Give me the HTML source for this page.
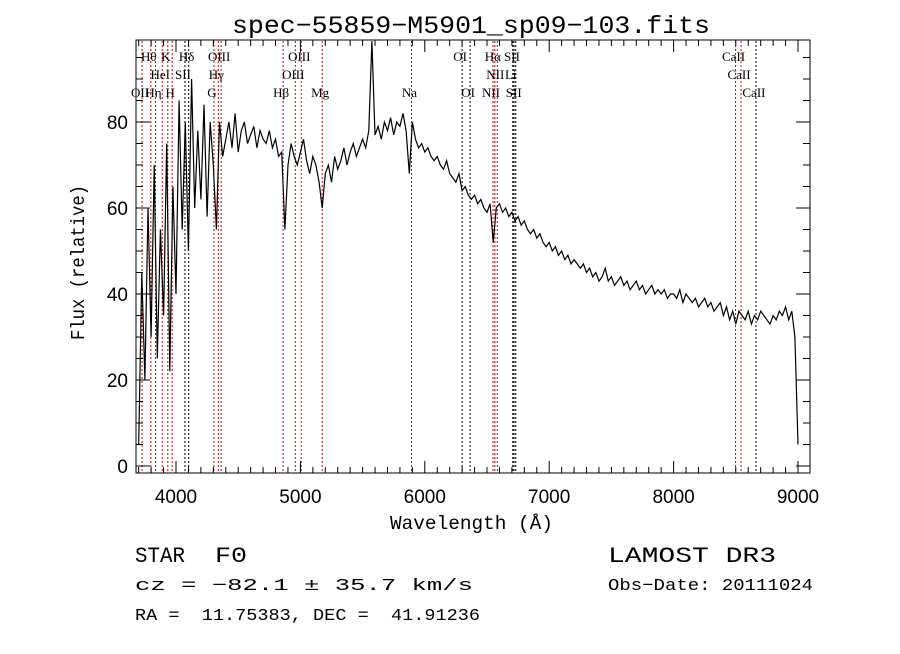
<!DOCTYPE html>
<html><head><meta charset="utf-8"><style>
body{margin:0;background:#fff;}
svg text{white-space:pre;}
</style></head><body>
<svg id="chart" width="900" height="649" xmlns="http://www.w3.org/2000/svg" font-family="Liberation Serif, serif">
<rect width="900" height="649" fill="#fff"/>
<text x="232" y="33" textLength="478" lengthAdjust="spacingAndGlyphs" font-size="25" font-family="Liberation Mono, monospace">spec−55859−M5901_sp09−103.fits</text>
<g id="lines"></g>
<g id="spec"></g>
<rect x="136" y="40" width="674" height="433" fill="none" stroke="#000" stroke-width="1"/>
<g id="axes"></g>
<text x="390" y="529" textLength="163" lengthAdjust="spacingAndGlyphs" font-size="19" font-family="Liberation Mono, monospace">Wavelength (Å)</text>
<text transform="translate(84,340) rotate(-90)" textLength="155" lengthAdjust="spacingAndGlyphs" font-size="19" font-family="Liberation Mono, monospace">Flux (relative)</text>
<text x="135" y="562" font-size="22" font-family="Liberation Mono, monospace" textLength="50" lengthAdjust="spacingAndGlyphs">STAR</text>
<text x="215" y="562" font-size="22" font-family="Liberation Mono, monospace" textLength="32" lengthAdjust="spacingAndGlyphs">F0</text>
<text x="135" y="590" font-size="17" font-family="Liberation Mono, monospace" textLength="338" lengthAdjust="spacingAndGlyphs">cz = −82.1 ± 35.7 km/s</text>
<text x="135" y="620" font-size="17" font-family="Liberation Mono, monospace" textLength="345" lengthAdjust="spacingAndGlyphs">RA =  11.75383, DEC =  41.91236</text>
<text x="608" y="562" font-size="22" font-family="Liberation Mono, monospace" textLength="168" lengthAdjust="spacingAndGlyphs">LAMOST DR3</text>
<text x="608" y="590" font-size="17" font-family="Liberation Mono, monospace" textLength="205" lengthAdjust="spacingAndGlyphs">Obs−Date: 20111024</text>
</svg>
<script>
const wlStart=3700, wlStep=25;
const flux=[5,45,20,60,30,70,25,55,35,75,22,65,
40,85,55,80,50,90,60,78,62,84,58,80,
70,55,80,72,76,80,74,82,73,78,80,75,
77,79,74,78,76,75,78,74,76,72,73,55,
70,75,72,70,73,76,71,68,72,70,66,60,
68,70,66,72,69,71,74,70,73,75,72,74,
76,74,78,100,77,79,76,80,78,81,77,80,
79,82,78,68,80,76,74,75,73,74,72,71,
72,70,69,71,68,67,66,68,64,65,63,62,
63,61,62,60,59,61,52,60,61,59,60,58,
59,57,58,56,57,55,54,55,53,54,52,51,
52,50,51,49,50,48,49,47,48,47,46,47,
45,46,44,45,43,44,46,43,44,42,43,44,
42,43,41,42,43,41,42,40,41,42,40,41,
40,41,39,40,
40,39,41,38,40,39,38,39,37,38,39,37,
38,36,37,38,35,37,34,36,33,36,35,34,
36,33,35,34,36,35,34,33,35,34,36,35,
37,34,36,30,5];
const lineWl=[3727,3798,3835,3889,3934,3969,4072,4102,4305,4340,4363,4861,4959,5007,5175,5893,6300,6364,6548,6563,6583,6707,6717,6731,8498,8542,8662];
const lineLbl=["OII","Hθ","Hη","HeI","K","H","SII","Hδ","G","Hγ","OIII","Hβ","OIII","OIII","Mg","Na","OI","OI","NII","Hα","NII","Li","SII","SII","CaII","CaII","CaII"];
const lineRow=[2,0,2,1,0,2,1,0,2,1,0,2,1,0,2,2,0,2,2,0,1,1,0,2,0,1,2];
const lineColor=["#c00","#c00","#c00","#c00","#c00","#c00","#000","#000","#c00","#c00","#c00","#c00","#c00","#c00","#c00","#c00","#000","#000","#c00","#c00","#c00","#000","#000","#000","#c00","#c00","#000"];
const xTicks=[4000,5000,6000,7000,8000,9000];
const yTicks=[0,20,40,60,80];
const NS="http://www.w3.org/2000/svg";
const X=w=>176+(w-4000)*0.1244;
const Y=f=>466-f*4.3;
function mk(t,a,p){const e=document.createElementNS(NS,t);for(const k in a)e.setAttribute(k,a[k]);p.appendChild(e);return e;}
const gl=document.getElementById('lines');
const rowY=[61,79,97];
lineWl.forEach((w,i)=>{
 const l=mk('line',{x1:X(w),x2:X(w),y1:41,y2:472,stroke:lineColor[i],'stroke-width':1,'stroke-dasharray':'2,2'},gl);
 
 
 const t=mk('text',{x:X(w)-2,y:rowY[lineRow[i]],'font-size':13,'text-anchor':'middle'},gl);
 t.textContent=lineLbl[i];
 
 
});
const gs=document.getElementById('spec');
const pts=flux.map((f,i)=>X(wlStart+i*wlStep).toFixed(1)+','+Math.max(41,Y(f)).toFixed(1)).join(' ');
const pl=mk('polyline',{points:pts,fill:'none',stroke:'#000','stroke-width':1.2},gs);


const ga=document.getElementById('axes');
for(let w=3700;w<=9000;w+=100){const maj=w%1000===0;mk('line',{x1:X(w),x2:X(w),y1:473,y2:473-(maj?12:6),stroke:'#000'},ga);mk('line',{x1:X(w),x2:X(w),y1:40,y2:40+(maj?12:6),stroke:'#000'},ga);}
xTicks.forEach(v=>{const t=mk('text',{x:X(v),y:503,'font-size':19,'text-anchor':'middle','font-family':'Liberation Sans, sans-serif'},ga);t.textContent=v;});
for(let f=0;f<=95;f+=5){const maj=f%20===0;mk('line',{x1:136,x2:136+(maj?14:7),y1:Y(f),y2:Y(f),stroke:'#000'},ga);mk('line',{x1:810,x2:810-(maj?14:7),y1:Y(f),y2:Y(f),stroke:'#000'},ga);}
yTicks.forEach(v=>{const t=mk('text',{x:128,y:Y(v)+7,'font-size':19,'text-anchor':'end','font-family':'Liberation Sans, sans-serif'},ga);t.textContent=v;});
</script>
</body></html>
